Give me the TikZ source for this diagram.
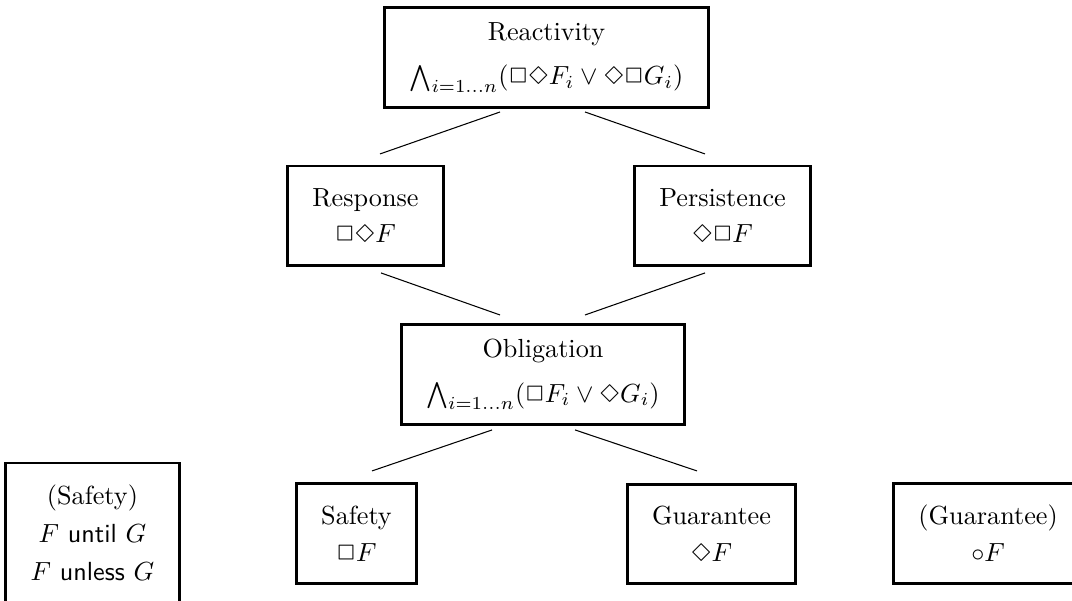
\documentclass[tikz,border=0pt]{standalone}
\usepackage{amsmath, latexsym}

\begin{document}
\begin{tikzpicture}[
  classbox/.style={draw,line width=1.1pt,align=center,inner xsep=9.5pt,minimum height=38pt,outer sep=0pt},
  link/.style={line width=0.4pt}]
\useasboundingbox (0,0) rectangle (14.386,8.065);
% top level
\node[classbox] (react) at (7.334,7.294) {Reactivity\\[5pt]$\bigwedge_{i=1\ldots n}(\Box\Diamond F_i\vee\Diamond\Box G_i)$};
% second level
\node[classbox] (resp) at (4.905,5.17) {Response\\[2pt]$\Box\Diamond F$};
\node[classbox] (pers) at (9.696,5.17) {Persistence\\[2pt]$\Diamond\Box F$};
% third level
\node[classbox] (oblig) at (7.287,3.040) {Obligation\\[5pt]$\bigwedge_{i=1\ldots n}(\Box F_i\vee\Diamond G_i)$};
% bottom row
\node[classbox,minimum height=53.4pt] (safex) at (1.241,0.913) {(Safety)\\[2.5pt]$F$ \textsf{until} $G$\\[2.5pt]$F$ \textsf{unless} $G$};
\node[classbox] (safe) at (4.784,0.906) {Safety\\[2pt]$\Box F$};
\node[classbox] (guar) at (9.548,0.90) {Guarantee\\[2pt]$\Diamond F$};
\node[classbox] (guarx) at (13.26,0.906) {(Guarantee)\\[2pt]$\circ F$};
% line ends
\coordinate (react-l) at (6.710,6.562);
\coordinate (react-r) at (7.851,6.562);
\coordinate (resp-t) at (5.100,5.999);
\coordinate (pers-t) at (9.461,5.999);
\coordinate (resp-b) at (5.113,4.402);
\coordinate (pers-b) at (9.461,4.402);
\coordinate (oblig-tl) at (6.710,3.838);
\coordinate (oblig-tr) at (7.851,3.838);
\coordinate (oblig-bl) at (6.603,2.295);
\coordinate (oblig-br) at (7.717,2.295);
\coordinate (safe-t) at (4.992,1.745);
\coordinate (guar-t) at (9.354,1.745);
\draw[link] (react-l) -- (resp-t);
\draw[link] (react-r) -- (pers-t);
\draw[link] (resp-b) -- (oblig-tl);
\draw[link] (pers-b) -- (oblig-tr);
\draw[link] (oblig-bl) -- (safe-t);
\draw[link] (oblig-br) -- (guar-t);
\end{tikzpicture}
\end{document}
